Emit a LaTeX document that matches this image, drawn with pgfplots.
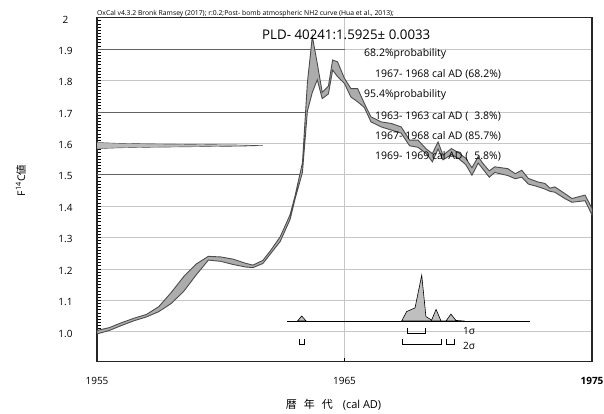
\documentclass[border=0pt]{standalone}
\usepackage{fontspec}
\setmainfont{Open Sans}
\newfontfamily\cjk{Noto Sans CJK JP}
\usepackage{pgfplots}
\pgfplotsset{compat=1.18}
\begin{document}
\begin{tikzpicture}
\path[use as bounding box] (0pt,0pt) rectangle (604pt,414pt);
\begin{axis}[
  at={(97pt,52.3pt)}, anchor=south west,
  width=495pt, height=344.1pt, scale only axis,
  xmin=1955, xmax=1975, ymin=0.9045, ymax=2.0,
  xtick={1955,1965,1975}, xticklabels={1955,1965,\textbf{1975}},
  ytick={1.0,1.1,1.2,1.3,1.4,1.5,1.6,1.7,1.8,1.9,2.0},
  yticklabels={1.0,1.1,1.2,1.3,1.4,1.5,1.6,1.7,1.8,1.9,2},
  minor y tick num=9,
  xtick pos=bottom, ytick pos=left,
  tick align=inside,
  major tick length=4pt, minor tick length=4pt,
  tick style={black, line width=0.6pt},
  xmajorgrids, ymajorgrids,
  grid style={gray!45, line width=0.6pt},
  axis line style={black!85, line width=1.2pt},
  ticklabel style={font=\fontsize{10}{12}\selectfont},
  xticklabel style={anchor=base, yshift=-23.3pt},
  yticklabel style={anchor=center, xshift=-31.5pt, yshift=-1.8pt},
]
% darker grid segments
\addplot[black!62, line width=0.55pt] coordinates {(1955,1.9) (1965,1.9)};
\addplot[black!62, line width=0.55pt] coordinates {(1955,1.7) (1963.45,1.7)};
\addplot[black!62, line width=0.55pt] coordinates {(1955,1.5) (1963.2,1.5)};

% measurement distribution (horizontal)
\addplot[fill=gray!55, draw=gray!60!black, line width=0.4pt] coordinates {
(1955,1.5817) (1955.07,1.5817) (1955.29,1.5835) (1955.91,1.5853) (1957.18,1.5871)
(1959.06,1.5889) (1960.91,1.5907) (1961.7,1.5925) (1960.91,1.5943) (1959.06,1.5961)
(1957.18,1.5979) (1955.91,1.5997) (1955.29,1.6015) (1955.07,1.6033) (1955,1.6033)} -- cycle;

% calibration curve band
\addplot[fill=gray!65, draw=black!70, line width=0.9pt] coordinates {
(1955.0,1.004) (1955.5,1.013) (1956.0,1.029) (1956.5,1.043) (1957.0,1.055)
(1957.5,1.080) (1958.0,1.125) (1958.5,1.175) (1959.0,1.215) (1959.5,1.240)
(1960.0,1.238) (1960.5,1.231) (1961.0,1.218) (1961.3,1.212) (1961.7,1.227)
(1962.0,1.257) (1962.4,1.302) (1962.8,1.372) (1963.0,1.432) (1963.3,1.537)
(1963.5,1.792) (1963.7,1.940) (1963.9,1.854) (1964.1,1.762) (1964.35,1.782)
(1964.52,1.865) (1964.72,1.859) (1965.0,1.806) (1965.26,1.774) (1965.53,1.774)
(1965.8,1.727) (1966.07,1.684) (1966.48,1.668) (1966.89,1.663) (1967.29,1.652)
(1967.63,1.610) (1967.97,1.610) (1968.3,1.582) (1968.55,1.567) (1968.78,1.604)
(1968.98,1.562) (1969.32,1.583) (1969.6,1.570) (1969.9,1.552) (1970.15,1.522)
(1970.4,1.557) (1970.6,1.535) (1970.85,1.512) (1971.07,1.525) (1971.6,1.519)
(1971.9,1.503) (1972.16,1.514) (1972.43,1.488) (1972.8,1.477) (1973.1,1.472)
(1973.3,1.457) (1973.5,1.461) (1973.9,1.440) (1974.19,1.424) (1974.72,1.435)
(1975.0,1.392)
(1975.0,1.372) (1974.72,1.417) (1974.19,1.412) (1973.9,1.424) (1973.5,1.444)
(1973.3,1.447) (1973.1,1.454) (1972.8,1.462) (1972.43,1.470) (1972.16,1.492)
(1971.9,1.487) (1971.6,1.497) (1971.07,1.507) (1970.85,1.492) (1970.6,1.517)
(1970.4,1.537) (1970.15,1.498) (1969.9,1.532) (1969.6,1.552) (1969.32,1.564)
(1968.98,1.547) (1968.78,1.582) (1968.55,1.541) (1968.3,1.567) (1967.97,1.587)
(1967.63,1.592) (1967.29,1.632) (1966.89,1.642) (1966.48,1.652) (1966.07,1.668)
(1965.8,1.714) (1965.53,1.732) (1965.26,1.747) (1965.0,1.790) (1964.72,1.812)
(1964.52,1.833) (1964.35,1.757) (1964.1,1.742) (1963.9,1.802) (1963.7,1.762)
(1963.5,1.702) (1963.3,1.507) (1963.0,1.422) (1962.8,1.357) (1962.4,1.287)
(1962.0,1.247) (1961.7,1.217) (1961.3,1.204) (1961.0,1.206) (1960.5,1.214)
(1960.0,1.224) (1959.5,1.228) (1959.0,1.180) (1958.5,1.128) (1958.0,1.090)
(1957.5,1.064) (1957.0,1.047) (1956.5,1.035) (1956.0,1.020) (1955.5,1.004)
(1955.0,0.993)} -- cycle;

% posterior distribution
\addplot[fill=gray!50, draw=black, line width=0.6pt] coordinates {
(1963.1,1.034) (1963.27,1.050) (1963.45,1.034)} -- cycle;
\addplot[fill=gray!50, draw=black, line width=0.6pt] coordinates {
(1967.31,1.034) (1967.51,1.064) (1967.85,1.076) (1968.12,1.180) (1968.29,1.048)
(1968.52,1.037) (1968.70,1.071) (1968.90,1.034) (1969.10,1.034) (1969.30,1.056)
(1969.50,1.036) (1969.67,1.035) (1969.85,1.034)} -- cycle;
\addplot[black, line width=0.8pt] coordinates {(1962.68,1.034) (1972.5,1.034)};

% 1 sigma bracket
\addplot[black, line width=0.9pt] coordinates {(1967.55,1.012) (1967.55,0.996) (1968.28,0.996) (1968.28,1.012)};
% 2 sigma brackets
\addplot[black, line width=0.9pt] coordinates {(1963.16,0.977) (1963.16,0.961) (1963.40,0.961) (1963.40,0.977)};
\addplot[black, line width=0.9pt] coordinates {(1967.35,0.977) (1967.35,0.961) (1968.90,0.961) (1968.90,0.977)};
\addplot[black, line width=0.9pt] coordinates {(1969.13,0.977) (1969.13,0.961) (1969.44,0.961) (1969.44,0.977)};

\draw[black!85, line width=2.2pt] (rel axis cs:0,0) -- (rel axis cs:1,0);
\end{axis}

\node[anchor=base west, inner sep=0, font=\fontsize{6.8}{8}\selectfont] at (97pt,398.5pt)
  {OxCal v4.3.2 Bronk Ramsey (2017); r:0.2;Post- bomb atmospheric NH2 curve (Hua et al., 2013);};
\node[anchor=base west, inner sep=0, font=\fontsize{13.3}{15}\selectfont] at (262pt,374pt)
  {PLD- 40241:1.5925± 0.0033};
\begin{scope}[every node/.style={anchor=base west, inner sep=0, font=\fontsize{10.5}{12}\selectfont}]
\node at (364pt,357.3pt) {68.2\%probability};
\node at (375pt,336.2pt) {1967- 1968 cal AD (68.2\%)};
\node at (364pt,316.5pt) {95.4\%probability};
\node at (375pt,294.5pt) {1963- 1963 cal AD (\phantom{0}3.8\%)};
\node at (375pt,274.5pt) {1967- 1968 cal AD (85.7\%)};
\node at (375pt,254pt) {1969- 1969 cal AD (\phantom{0}5.8\%)};
\end{scope}
\node[anchor=base west, inner sep=0, font=\fontsize{10}{12}\selectfont] at (463pt,79.7pt) {1σ};
\node[anchor=base west, inner sep=0, font=\fontsize{10}{12}\selectfont] at (463pt,64pt) {2σ};
\node[rotate=90, font=\fontsize{10.5}{12}\selectfont] at (21pt,233.5pt) {F\textsuperscript{14}C{\cjk 値}};
\node[anchor=base, inner sep=0, font=\fontsize{11}{13}\selectfont] at (333.5pt,5.5pt)
  {{\cjk 暦}\hspace{7pt}{\cjk 年}\hspace{7pt}{\cjk 代}\hspace{10pt}(cal AD)};
\end{tikzpicture}
\end{document}
